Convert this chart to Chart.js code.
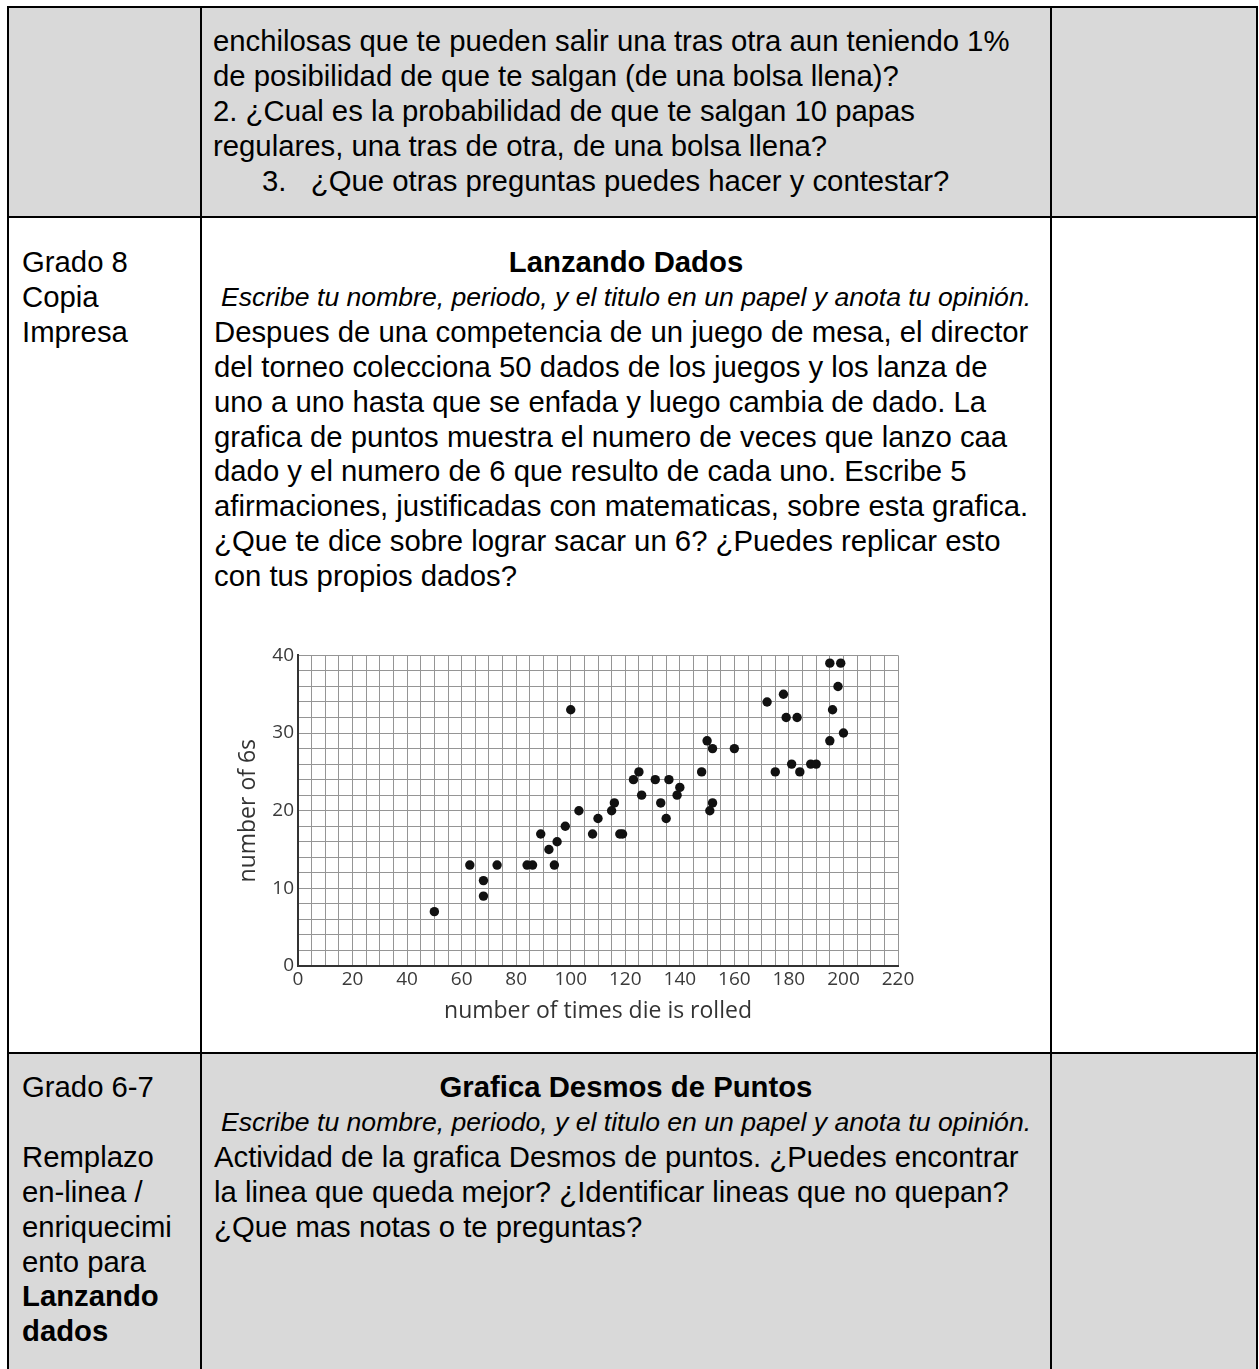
<!DOCTYPE html>
<html>
<head>
<meta charset="utf-8">
<script src="https://cdn.jsdelivr.net/npm/chart.js@4"></script>
<style>
  body { margin: 0; background: #fff; width: 1259px; height: 1369px; overflow: hidden; position: relative;
         font-family: "Liberation Sans", Arial, sans-serif; color: #000; }
  .cell { position: absolute; }
  .gray { background: #d9d9d9; }
  .vline { position: absolute; width: 2px; background: #000; }
  .hline { position: absolute; height: 2px; background: #000; }
  .txt { position: absolute; font-size: 29.3px; line-height: 34.9px; white-space: nowrap; }
  .ital { font-style: italic; font-size: 26.6px; }
  .center { text-align: center; }
  b { font-weight: bold; }
  #chartBox { position: absolute; left: 230px; top: 640px; width: 688px; height: 385px; }
</style>
</head>
<body>
<!-- cell backgrounds -->
<div class="cell gray" style="left:8px; top:7px; width:1249px; height:210px;"></div>
<div class="cell gray" style="left:8px; top:1053px; width:1249px; height:316px;"></div>

<!-- table lines -->
<div class="hline" style="left:7px; top:6px; width:1251px;"></div>
<div class="hline" style="left:7px; top:216px; width:1251px;"></div>
<div class="hline" style="left:7px; top:1052px; width:1251px;"></div>
<div class="vline" style="left:7px; top:6px; height:1363px;"></div>
<div class="vline" style="left:200px; top:6px; height:1363px;"></div>
<div class="vline" style="left:1050px; top:6px; height:1363px;"></div>
<div class="vline" style="left:1256px; top:6px; height:1363px;"></div>

<!-- row 1 -->
<div class="txt" style="left:213px; top:24px;">
  <div>enchilosas que te pueden salir una tras otra aun teniendo 1%</div>
  <div>de posibilidad de que te salgan (de una bolsa llena)?</div>
  <div>2. ¿Cual es la probabilidad de que te salgan 10 papas</div>
  <div>regulares, una tras de otra, de una bolsa llena?</div>
  <div style="padding-left:49px;">3.&nbsp;&nbsp; ¿Que otras preguntas puedes hacer y contestar?</div>
</div>

<!-- row 2 -->
<div class="txt" style="left:22px; top:245px;">
  <div>Grado 8</div>
  <div>Copia</div>
  <div>Impresa</div>
</div>
<div class="txt" style="left:202px; top:245px; width:848px;">
  <div class="center"><b>Lanzando Dados</b></div>
  <div class="center ital">Escribe tu nombre, periodo, y el titulo en un papel y anota tu opinión.</div>
  <div style="padding-left:12px;">
    <div>Despues de una competencia de un juego de mesa, el director</div>
    <div>del torneo colecciona 50 dados de los juegos y los lanza de</div>
    <div>uno a uno hasta que se enfada y luego cambia de dado. La</div>
    <div>grafica de puntos muestra el numero de veces que lanzo caa</div>
    <div>dado y el numero de 6 que resulto de cada uno. Escribe 5</div>
    <div>afirmaciones, justificadas con matematicas, sobre esta grafica.</div>
    <div>¿Que te dice sobre lograr sacar un 6? ¿Puedes replicar esto</div>
    <div>con tus propios dados?</div>
  </div>
</div>

<div id="chartBox"><canvas id="diceChart"></canvas></div>

<!-- row 3 -->
<div class="txt" style="left:22px; top:1070px;">
  <div>Grado 6-7</div>
  <div>&nbsp;</div>
  <div>Remplazo</div>
  <div>en-linea /</div>
  <div>enriquecimi</div>
  <div>ento para</div>
  <div><b>Lanzando</b></div>
  <div><b>dados</b></div>
</div>
<div class="txt" style="left:202px; top:1070px; width:848px;">
  <div class="center"><b>Grafica Desmos de Puntos</b></div>
  <div class="center ital">Escribe tu nombre, periodo, y el titulo en un papel y anota tu opinión.</div>
  <div style="padding-left:12px;">
    <div>Actividad de la grafica Desmos de puntos. ¿Puedes encontrar</div>
    <div>la linea que queda mejor? ¿Identificar lineas que no quepan?</div>
    <div>¿Que mas notas o te preguntas?</div>
  </div>
</div>

<script>
// Dice data: rolls per die and number of 6s
const rollCounts = [50, 63, 68, 68, 73, 84, 86, 89, 92, 94,
  95, 98, 100, 103, 108, 110, 115, 116, 118, 119,
  123, 125, 126, 131, 133, 135, 136, 139, 140, 148,
  150, 151, 152, 152, 160, 172, 175, 178, 179, 181,
  183, 184, 188, 190, 195, 195, 196, 198, 199, 200];
const sixCounts = [7, 13, 11, 9, 13, 13, 13, 17, 15, 13,
  16, 18, 33, 20, 17, 19, 20, 21, 17, 17,
  24, 25, 22, 24, 21, 19, 24, 22, 23, 25,
  29, 20, 21, 28, 28, 34, 25, 35, 32, 26,
  32, 25, 26, 26, 29, 39, 33, 36, 39, 30];

// Axis settings
const xRange = [0, 220];
const yRange = [0, 40];
const xGridStep = 5;
const yGridStep = 2;
const xLabelEvery = 20;
const yLabelEvery = 10;

const points = rollCounts.map((x, i) => ({ x: x, y: sixCounts[i] }));

const tickFont = { family: "'Open Sans', 'Noto Sans', sans-serif", size: 19 };
const titleFont = { family: "'Open Sans', 'Noto Sans', sans-serif", size: 23 };

const ctx = document.getElementById("diceChart").getContext("2d");
const chart = new Chart(ctx, {
  type: "scatter",
  data: {
    datasets: [
      {
        data: points,
        backgroundColor: "#111",
        borderWidth: 0,
        pointRadius: 4.7,
      },
    ],
  },
  options: {
    responsive: true,
    maintainAspectRatio: false,
    animation: false,
    layout: { padding: { top: 13, right: 20, left: 0, bottom: 0 } },
    plugins: { legend: { display: false }, tooltip: { enabled: false } },
    scales: {
      x: {
        type: "linear",
        min: xRange[0],
        max: xRange[1],
        grid: { color: "#959595", lineWidth: 1, drawTicks: false },
        border: { display: true, color: "#333", width: 2 },
        ticks: {
          stepSize: xGridStep,
          autoSkip: false,
          maxRotation: 0,
          padding: 2,
          color: "#3a3a3a",
          font: tickFont,
          callback: (v) => (v % xLabelEvery === 0 ? v : ""),
        },
        title: {
          display: true,
          text: "number of times die is rolled",
          color: "#333",
          font: titleFont,
          padding: { top: 1, bottom: 0 },
        },
        afterFit: (scale) => { scale.height = 59; },
      },
      y: {
        type: "linear",
        min: yRange[0],
        max: yRange[1],
        grid: { color: "#959595", lineWidth: 1, drawTicks: false },
        border: { display: true, color: "#333", width: 2 },
        ticks: {
          stepSize: yGridStep,
          autoSkip: false,
          padding: 4,
          color: "#3a3a3a",
          font: tickFont,
          callback: (v) => (v % yLabelEvery === 0 ? v : ""),
        },
        title: {
          display: true,
          text: "number of 6s",
          color: "#333",
          font: titleFont,
          padding: { top: 5, bottom: 0 },
        },
        afterFit: (scale) => { scale.width = 68; },
      },
    },
  },
});
</script>
</body>
</html>
